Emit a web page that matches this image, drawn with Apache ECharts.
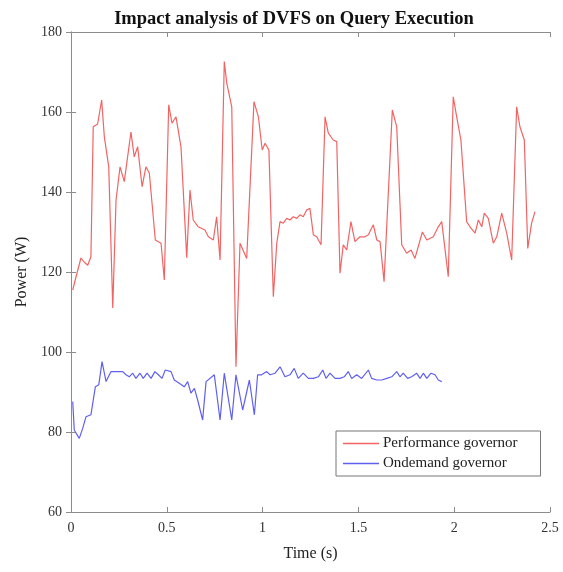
<!DOCTYPE html>
<html>
<head>
<meta charset="utf-8">
<script src="https://cdn.jsdelivr.net/npm/echarts@6/dist/echarts.min.js"></script>
<style>
html,body{margin:0;padding:0;background:#fff;}
#chart{width:563px;height:572px;}
</style>
</head>
<body>
<div id="chart"></div>
<script>
var seriesNames = ["Performance governor", "Ondemand governor"];

var perfTime = [0.009,0.022,0.052,0.068,0.087,0.104,0.116,0.139,0.160,0.174,0.197,0.218,0.235,0.256,0.278,0.313,0.330,0.348,0.371,0.391,0.409,0.440,0.470,0.487,0.510,0.527,0.548,0.574,0.604,0.621,0.638,0.664,0.699,0.717,0.743,0.760,0.778,0.800,0.813,0.839,0.861,0.882,0.917,0.955,0.978,0.998,1.013,1.033,1.056,1.074,1.091,1.108,1.126,1.143,1.160,1.178,1.195,1.212,1.230,1.247,1.265,1.282,1.305,1.326,1.343,1.369,1.387,1.404,1.421,1.439,1.461,1.482,1.508,1.534,1.552,1.578,1.596,1.613,1.634,1.677,1.700,1.726,1.752,1.775,1.795,1.834,1.857,1.891,1.917,1.935,1.969,1.995,2.013,2.035,2.065,2.082,2.109,2.126,2.144,2.157,2.178,2.204,2.222,2.248,2.274,2.300,2.326,2.343,2.366,2.384,2.404,2.422];
var perfPower = [115.5,118,123.5,122.5,121.7,123.8,156.3,157,163,153.8,146.3,111,138,146.3,142.6,155,148.8,151.3,141.3,146.3,144.7,128,127.2,118,161.8,157.2,158.8,151.3,123.6,140.5,133,131.3,130.5,128.8,128,133.8,123,172.6,167.2,161.3,96.3,127.2,123.4,162.6,158.8,150.5,152.2,150.5,113.8,127.2,132.6,132.2,133.4,133,133.8,133.4,134.3,133.8,135.5,135.9,129.3,128.8,126.8,158.8,154.7,153,152.6,119.7,126.8,125.5,132.6,127.6,128.8,128.8,129.3,131.8,128,127.6,117.6,160.5,156.3,126.8,124.7,125.5,123.4,130,128,128.8,131.3,132.6,118.8,163.8,158.8,153,132.6,131.3,129.7,133,131.3,134.7,133.4,127.2,128.8,134.7,129.7,123,161.3,156.3,153,125.9,132.2,135.1];

var ondTime = [0.009,0.017,0.043,0.061,0.078,0.104,0.127,0.145,0.162,0.183,0.209,0.235,0.270,0.287,0.304,0.322,0.339,0.360,0.377,0.397,0.418,0.438,0.456,0.475,0.492,0.522,0.539,0.565,0.591,0.609,0.626,0.644,0.661,0.687,0.705,0.748,0.778,0.800,0.839,0.861,0.896,0.931,0.957,0.974,0.995,1.021,1.039,1.065,1.091,1.117,1.143,1.165,1.186,1.212,1.239,1.265,1.291,1.314,1.331,1.352,1.378,1.404,1.426,1.447,1.465,1.491,1.517,1.552,1.569,1.596,1.622,1.648,1.674,1.700,1.717,1.734,1.757,1.778,1.804,1.822,1.839,1.857,1.879,1.900,1.917,1.935];
var ondPower = [87.6,80.5,78.4,80.9,83.8,84.3,91.3,91.8,97.6,92.6,95.1,95.1,95.1,94.3,93.8,94.7,93.4,94.7,93.4,94.7,93.4,95.1,94.3,93.4,95.5,95.1,93,92.2,91.3,92.6,89.7,90.9,88,83,92.6,94.3,83,94.7,83,94.3,85.5,93,84.3,94.3,94.3,95.1,94.3,94.7,96.3,93.8,94.3,95.9,93.4,94.7,93.4,93.4,93.8,95.5,93.4,94.7,93.4,93.4,93.8,95.1,93.4,94.3,93.4,95.5,93.4,93,93,93.4,93.8,95.1,93.8,94.7,93.4,93.8,94.7,93.4,94.7,93.4,94.7,94.3,93,92.6];

function pairs(xs, ys){ return xs.map(function(x,i){ return [x, ys[i]]; }); }

var serif = 'Liberation Serif';
var axisColor = '#8c8c8c';
var redColor = '#f26464';
var blueColor = '#6060f0';
var chart = echarts.init(document.getElementById('chart'));
chart.setOption({
  animation: false,
  backgroundColor: '#fff',
  title: {
    text: 'Impact analysis of DVFS on Query Execution',
    left: 289, textAlign: 'center', top: 5,
    textStyle: {fontFamily: serif, fontWeight: 'bold', fontSize: 18.5, color: '#111'}
  },
  legend: {
    orient: 'vertical', left: 336, top: 431,
    backgroundColor: '#fff', borderColor: '#777', borderWidth: 1,
    padding: [5, 23, 5, 7], itemGap: 5,
    icon: 'rect', itemWidth: 36, itemHeight: 1.5,
    textStyle: {fontFamily: serif, fontSize: 15, color: '#222', padding: [0, 0, 0, -1]},
    data: seriesNames
  },
  grid: {left: 71, right: 13, top: 32, bottom: 60},
  xAxis: [{
    type: 'value', min: 0, max: 2.5, interval: 0.5,
    name: 'Time (s)', nameLocation: 'middle', nameGap: 34,
    nameTextStyle: {fontFamily: serif, fontSize: 16, color: '#222'},
    axisLine: {show: true, lineStyle: {color: axisColor}},
    axisTick: {show: true, inside: true, length: 5, lineStyle: {color: axisColor}},
    axisLabel: {fontFamily: serif, fontSize: 14, color: '#333', margin: 9},
    splitLine: {show: false}
  }, {
    type: 'value', position: 'top', min: 0, max: 2.5, interval: 0.5,
    axisLine: {show: true, lineStyle: {color: axisColor}},
    axisTick: {show: true, inside: true, length: 5, lineStyle: {color: axisColor}},
    axisLabel: {show: false}, splitLine: {show: false}
  }],
  yAxis: [{
    type: 'value', min: 60, max: 180, interval: 20,
    name: 'Power (W)', nameLocation: 'middle', nameGap: 39, nameRotate: 90,
    nameTextStyle: {fontFamily: serif, fontSize: 16, color: '#222'},
    axisLine: {show: true, lineStyle: {color: axisColor}},
    axisTick: {show: true, inside: true, length: 5, lineStyle: {color: axisColor}},
    axisLabel: {fontFamily: serif, fontSize: 14, color: '#333', margin: 9},
    splitLine: {show: false}
  }, {
    type: 'value', position: 'right', min: 60, max: 180, interval: 20,
    axisLine: {show: true, lineStyle: {color: axisColor}},
    axisTick: {show: true, inside: true, length: 5, lineStyle: {color: axisColor}},
    axisLabel: {show: false}, splitLine: {show: false}
  }],
  series: [{
    name: seriesNames[0], type: 'line', xAxisIndex: 0, yAxisIndex: 0,
    data: pairs(perfTime, perfPower), symbol: 'none',
    lineStyle: {color: redColor, width: 1.2}, itemStyle: {color: redColor}
  }, {
    name: seriesNames[1], type: 'line', xAxisIndex: 0, yAxisIndex: 0,
    data: pairs(ondTime, ondPower), symbol: 'none',
    lineStyle: {color: blueColor, width: 1.2}, itemStyle: {color: blueColor}
  }]
});
</script>
</body>
</html>
